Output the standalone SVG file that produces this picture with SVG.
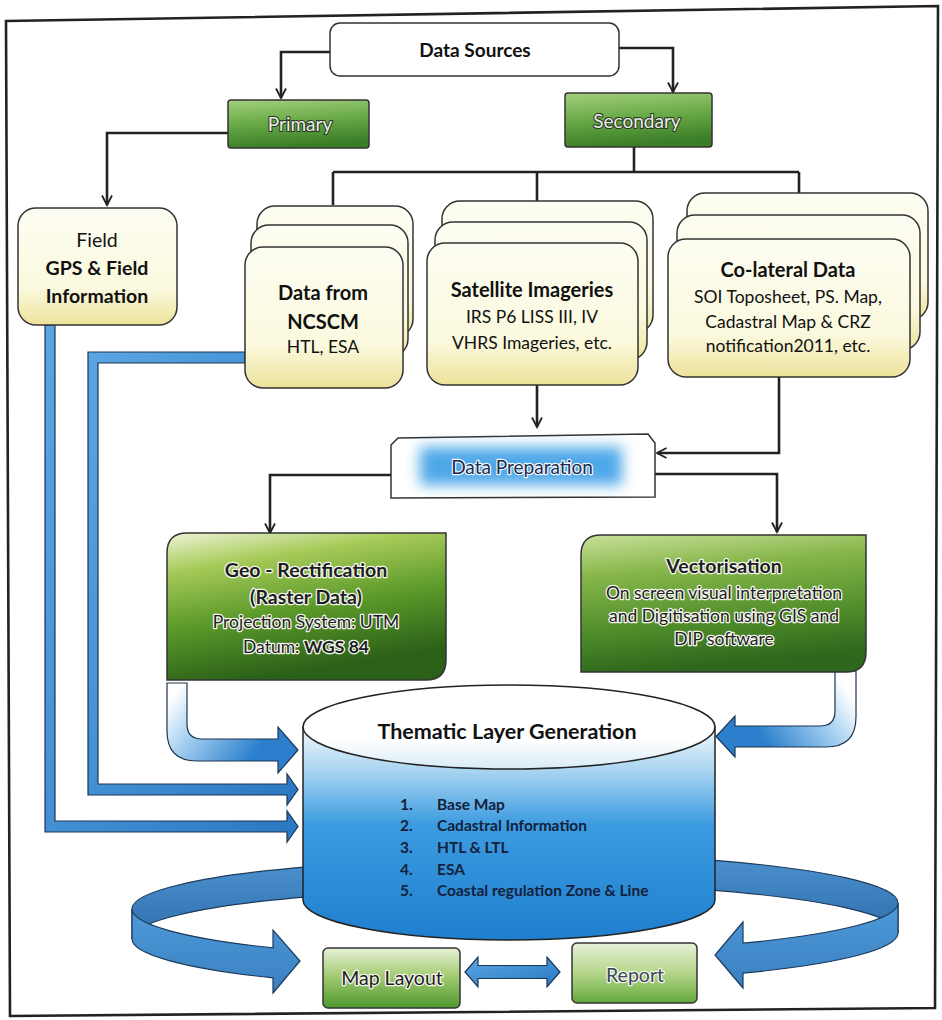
<svg xmlns="http://www.w3.org/2000/svg" width="942" height="1020" viewBox="0 0 942 1020">
<style>
text{font-family:Lato,"Open Sans","Liberation Sans",sans-serif;text-anchor:middle}
.b{font-weight:bold}
.dk{fill:#111}
.box{stroke:#333;stroke-width:1.5}
.cream{fill:url(#gCream);stroke:#333;stroke-width:1.5}
.ln{fill:none;stroke:#222;stroke-width:2.6}
.lnA{fill:none;stroke:#222;stroke-width:2.6;marker-end:url(#ah)}
.halo{fill:#1e1e1e;stroke:#f4f6ee;stroke-width:2.6;paint-order:stroke;stroke-linejoin:round}
.emb{fill:#e9ece6;stroke:#2b3a22;stroke-width:2.2;paint-order:stroke;stroke-linejoin:round}
.blue{fill:url(#gBlue);stroke:#1d3550;stroke-width:1.2}
.lst{font-size:15.5px;font-weight:bold;fill:#14213a;text-anchor:start}
</style>
<defs>
<marker id="ah" viewBox="0 0 12 12" refX="10.5" refY="6" markerWidth="12" markerHeight="12" markerUnits="userSpaceOnUse" orient="auto">
<path d="M1,1 L10.5,6 L1,11" fill="none" stroke="#222" stroke-width="1.8"/>
</marker>
<linearGradient id="gCream" x1="0" y1="0" x2="0" y2="1">
<stop offset="0" stop-color="#fdfdf3"/><stop offset="0.7" stop-color="#fbf9dd"/><stop offset="1" stop-color="#ece29a"/>
</linearGradient>
<linearGradient id="gSmall" x1="0" y1="0" x2="0.2" y2="1">
<stop offset="0" stop-color="#a3d07c"/><stop offset="0.5" stop-color="#6aaa48"/><stop offset="1" stop-color="#3c7e28"/>
</linearGradient>
<linearGradient id="gGeo" x1="0" y1="0" x2="0.3" y2="1">
<stop offset="0" stop-color="#eef4d6"/><stop offset="0.25" stop-color="#a6ca58"/><stop offset="0.6" stop-color="#5c9a2a"/><stop offset="1" stop-color="#2a6018"/>
</linearGradient>
<linearGradient id="gVect" x1="0" y1="0" x2="0.2" y2="1">
<stop offset="0" stop-color="#c9e09a"/><stop offset="0.3" stop-color="#86b64a"/><stop offset="0.7" stop-color="#4f8d2a"/><stop offset="1" stop-color="#2d681c"/>
</linearGradient>
<linearGradient id="gMap" x1="0" y1="0" x2="0" y2="1">
<stop offset="0" stop-color="#e8f2d8"/><stop offset="0.45" stop-color="#a6cc76"/><stop offset="1" stop-color="#4e982c"/>
</linearGradient>
<linearGradient id="gRep" x1="0" y1="0" x2="0" y2="1">
<stop offset="0" stop-color="#e6f0d6"/><stop offset="0.5" stop-color="#b6d68c"/><stop offset="1" stop-color="#62a83a"/>
</linearGradient>
<linearGradient id="gCyl" gradientUnits="userSpaceOnUse" x1="0" y1="730" x2="0" y2="940">
<stop offset="0" stop-color="#eef6fb"/><stop offset="0.2" stop-color="#a6d3f0"/><stop offset="0.45" stop-color="#3c9be0"/><stop offset="1" stop-color="#1f7fcf"/>
</linearGradient>
<linearGradient id="gTop" x1="0" y1="0" x2="0" y2="1">
<stop offset="0" stop-color="#ffffff"/><stop offset="0.65" stop-color="#ffffff"/><stop offset="1" stop-color="#d8ebf7"/>
</linearGradient>
<linearGradient id="gBlue" x1="0" y1="0" x2="1" y2="1">
<stop offset="0" stop-color="#5aa6e4"/><stop offset="1" stop-color="#2a78c2"/>
</linearGradient>
<linearGradient id="gCurveL" gradientUnits="userSpaceOnUse" x1="170" y1="700" x2="250" y2="760">
<stop offset="0" stop-color="#ffffff"/><stop offset="0.35" stop-color="#a8d2f2"/><stop offset="1" stop-color="#2b7fcc"/>
</linearGradient>
<linearGradient id="gCurveR" gradientUnits="userSpaceOnUse" x1="850" y1="695" x2="770" y2="750">
<stop offset="0" stop-color="#ffffff"/><stop offset="0.35" stop-color="#a8d2f2"/><stop offset="1" stop-color="#2b7fcc"/>
</linearGradient>
<linearGradient id="gRingB" x1="0" y1="0" x2="0" y2="1">
<stop offset="0" stop-color="#4a8fcc"/><stop offset="1" stop-color="#2f6fae"/>
</linearGradient>
<linearGradient id="gRingF" x1="0" y1="0" x2="0" y2="1">
<stop offset="0" stop-color="#4e9ad8"/><stop offset="1" stop-color="#3a80c2"/>
</linearGradient>
<filter id="blur" x="-30%" y="-60%" width="160%" height="220%"><feGaussianBlur stdDeviation="7"/></filter>
</defs>

<rect width="942" height="1020" fill="#ffffff"/>
<polygon points="6,21 938,6 935,1008 10,1016" fill="none" stroke="#222" stroke-width="2.6"/>

<g id="connectors">
<path class="lnA" d="M330,52 L281,52 L281,98"/>
<path class="lnA" d="M619,48 L673,48 L673,92"/>
<path class="lnA" d="M228,133 L107,133 L107,205"/>
<path class="ln" d="M634,147 L634,172 M333,172 L799,172 M333,172 L333,205 M537,172 L537,201 M799,172 L799,193"/>
<path class="lnA" d="M537,385 L537,427"/>
<path class="lnA" d="M779,377 L779,453 L657,453"/>
<path class="lnA" d="M391,475 L270,475 L270,533"/>
<path class="lnA" d="M655,474 L777,474 L777,532"/>
<path class="blue" d="M45,325 L55,325 L55,821 L287,821 L287,811 L298,826.5 L287,842 L287,832 L45,832 Z"/>
<path class="blue" d="M245,352 L245,363 L98,363 L98,784 L287,784 L287,774 L298,789.5 L287,805 L287,795 L88,795 L88,352 Z"/>
<path d="M167,683 L187,683 L187,724 Q187,739 202,739 L278,739 L278,727 L298,750 L278,773 L278,761 L197,761 Q167,761 167,731 Z" fill="url(#gCurveL)" stroke="#1d3550" stroke-width="1.2"/>
<path d="M856,671 L835,671 L835,711 Q835,726 820,726 L735,726 L735,716 L716,736.5 L735,757 L735,747 L826,747 Q856,747 856,717 Z" fill="url(#gCurveR)" stroke="#1d3550" stroke-width="1.2"/>
<path d="M310,866.6 A380,50 0 0 0 132,909 L132,939 A380,50 0 0 1 310,896.6 Z" fill="url(#gRingB)" stroke="#1d3a5a" stroke-width="1.2"/>
<path d="M132,909 A380,50 0 0 0 273,947.9 L273,930 L300,961 L273,993 L273,977.9 A380,50 0 0 1 132,939 Z" fill="url(#gRingF)" stroke="#1d3a5a" stroke-width="1.2"/>
<path d="M705,859.6 A383,50 0 0 1 898,903 L898,933 A383,50 0 0 0 705,889.6 Z" fill="url(#gRingB)" stroke="#1d3a5a" stroke-width="1.2"/>
<path d="M898,903 A383,50 0 0 1 743,943.2 L743,922 L715,955 L743,988 L743,973.2 A383,50 0 0 0 898,933 Z" fill="url(#gRingF)" stroke="#1d3a5a" stroke-width="1.2"/>
<path d="M465,972 L478,957 L478,965.5 L547,965.5 L547,957 L560,972 L547,987 L547,978.5 L478,978.5 L478,987 Z" fill="url(#gBlue)" stroke="#1d3550" stroke-width="1.2"/>
</g>

<g id="data-sources">
<rect x="330" y="23" width="289" height="53" rx="10" fill="#fff" class="box"/>
<text x="475" y="57" class="b dk" font-size="19">Data Sources</text>
</g>

<g id="primary">
<rect x="228" y="100" width="141" height="48" rx="3" fill="url(#gSmall)" class="box"/>
<text x="300" y="131" class="emb" font-size="19">Primary</text>
</g>

<g id="secondary">
<rect x="565" y="93" width="147" height="54" rx="3" fill="url(#gSmall)" class="box"/>
<text x="637" y="128" class="emb" font-size="19">Secondary</text>
</g>

<g id="field">
<rect x="18" y="208" width="159" height="117" rx="18" class="cream"/>
<text x="97" y="247" class="dk" font-size="19.5">Field</text>
<text x="97" y="275" class="b dk" font-size="19.5">GPS &amp; Field</text>
<text x="97" y="303" class="b dk" font-size="19.5">Information</text>
</g>

<g id="ncscm">
<rect x="257" y="206" width="156" height="131" rx="18" class="cream"/>
<rect x="251" y="225" width="157" height="132" rx="18" class="cream"/>
<rect x="245" y="247" width="158" height="141" rx="18" class="cream"/>
<text x="323" y="300" class="b dk" font-size="20">Data from</text>
<text x="323" y="329" class="b dk" font-size="20">NCSCM</text>
<text x="323" y="353" class="dk" font-size="17.5">HTL, ESA</text>
</g>

<g id="satellite">
<rect x="442" y="201" width="211" height="132" rx="18" class="cream"/>
<rect x="435" y="222" width="212" height="138" rx="18" class="cream"/>
<rect x="427" y="243" width="211" height="142" rx="18" class="cream"/>
<text x="532" y="297" class="b dk" font-size="20">Satellite Imageries</text>
<text x="532" y="323" class="dk" font-size="17.5">IRS P6 LISS III, IV</text>
<text x="532" y="349" class="dk" font-size="17.5">VHRS Imageries, etc.</text>
</g>

<g id="colateral">
<rect x="687" y="193" width="241" height="127" rx="18" class="cream"/>
<rect x="677" y="215" width="243" height="135" rx="18" class="cream"/>
<rect x="668" y="239" width="242" height="138" rx="18" class="cream"/>
<text x="788" y="277" class="b dk" font-size="20">Co-lateral Data</text>
<text x="788" y="303" class="dk" font-size="17.5">SOI Toposheet, PS. Map,</text>
<text x="788" y="328" class="dk" font-size="17.5">Cadastral Map &amp; CRZ</text>
<text x="788" y="352" class="dk" font-size="17.5">notification2011, etc.</text>
</g>

<g id="data-preparation">
<path d="M391,445 L398,438 L648,434 L655,443 L655,497 L391,498 Z" fill="#fff" class="box"/>
<rect x="420" y="447" width="202" height="38" fill="#3a9fe6" filter="url(#blur)" opacity="0.9"/>
<text x="522" y="474" font-size="19" fill="#1c2c4c" stroke="#f2f8ff" stroke-width="2.4" paint-order="stroke" stroke-linejoin="round">Data Preparation</text>
</g>

<g id="geo-rectification">
<path d="M187,533 L446,533 L446,660 Q446,680 426,680 L167,680 L167,553 Q167,533 187,533 Z" fill="url(#gGeo)" class="box"/>
<text x="306" y="577" class="b halo" font-size="19.5">Geo - Rectification</text>
<text x="306" y="604" class="b halo" font-size="19.5">(Raster Data)</text>
<text x="306" y="628" class="halo" font-size="17.5">Projection System: UTM</text>
<text x="306" y="653" class="halo" font-size="17.5">Datum: <tspan class="b">WGS 84</tspan></text>
</g>

<g id="vectorisation">
<path d="M601,535 L866,535 L866,652 Q866,672 846,672 L581,672 L581,555 Q581,535 601,535 Z" fill="url(#gVect)" class="box"/>
<text x="724" y="573" class="b halo" font-size="19.5">Vectorisation</text>
<text x="724" y="599" class="halo" font-size="17.5">On screen visual interpretation</text>
<text x="724" y="622" class="halo" font-size="17.5">and Digitisation using GIS and</text>
<text x="724" y="645" class="halo" font-size="17.5">DIP software</text>
</g>

<g id="thematic-layer-generation">
<path d="M303,727 L303,900 A206,40 0 0 0 715,900 L715,727 Z" fill="url(#gCyl)" stroke="#222" stroke-width="1.5"/>
<ellipse cx="509" cy="727" rx="206" ry="42" fill="url(#gTop)" stroke="#222" stroke-width="1.5"/>
<text x="507" y="739" class="b dk" font-size="21.5">Thematic Layer Generation</text>
<text x="400" y="810" class="lst">1.</text><text x="437" y="810" class="lst">Base Map</text>
<text x="400" y="831" class="lst">2.</text><text x="437" y="831" class="lst">Cadastral Information</text>
<text x="400" y="853" class="lst">3.</text><text x="437" y="853" class="lst">HTL &amp; LTL</text>
<text x="400" y="875" class="lst">4.</text><text x="437" y="875" class="lst">ESA</text>
<text x="400" y="896" class="lst">5.</text><text x="437" y="896" class="lst">Coastal regulation Zone &amp; Line</text>
</g>

<g id="map-layout">
<rect x="323" y="948" width="137" height="60" rx="5" fill="url(#gMap)" class="box"/>
<text x="392" y="985" class="halo" font-size="19.5">Map Layout</text>
</g>

<g id="report">
<rect x="572" y="943" width="125" height="60" rx="5" fill="url(#gRep)" class="box"/>
<text x="635" y="982" font-size="19.5" fill="#3a4656" stroke="#f4f8ee" stroke-width="2.4" paint-order="stroke" stroke-linejoin="round">Report</text>
</g>
</svg>
